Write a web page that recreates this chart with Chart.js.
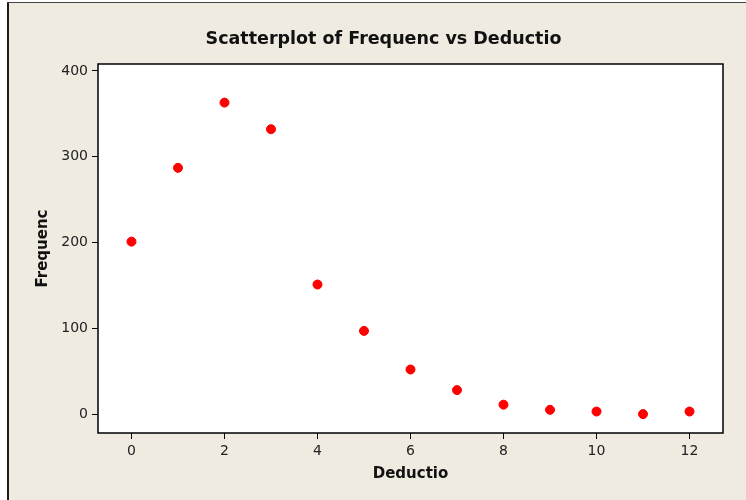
<!DOCTYPE html>
<html>
<head>
<meta charset="utf-8">
<script src="https://cdn.jsdelivr.net/npm/chart.js@4.4.1/dist/chart.umd.min.js"></script>
<style>
html,body{margin:0;padding:0;background:#EFEBE1;}
#wrap{width:746px;height:500px;position:relative;}
</style>
</head>
<body>
<div id="wrap"><canvas id="c" width="746" height="500"></canvas></div>
<script>
const deductio = [0,1,2,3,4,5,6,7,8,9,10,11,12];
const frequenc = [201,287,363,332,151,97,52,28,11,5,3,0,3];
const xTicks = [0,2,4,6,8,10,12];
const yTicks = [0,100,200,300,400];
const titleText = 'Scatterplot of Frequenc vs Deductio';
const xLabel = 'Deductio';
const yLabel = 'Frequenc';

const points = deductio.map((x,i)=>({x:x,y:frequenc[i]}));
const FONT = "'DejaVu Sans', Verdana, sans-serif";

const frame = {
  id:'frame',
  beforeDraw(chart){
    const c = chart.ctx;
    c.save();
    c.fillStyle = '#FFFFFF';
    c.fillRect(0,0,chart.width,chart.height);
    c.fillStyle = '#EFEBE1';
    c.fillRect(7,2,chart.width-7,chart.height-2);
    const a = chart.chartArea;
    c.fillStyle = '#FFFFFF';
    c.fillRect(a.left,a.top,a.right-a.left,a.bottom-a.top);
    c.fillStyle = '#1a1a1a';
    c.fillRect(7,2,2,chart.height-2);
    c.fillStyle = '#444';
    c.fillRect(7,2,chart.width-7,1);
    c.restore();
  },
  afterDraw(chart){
    const c = chart.ctx, a = chart.chartArea;
    c.save();
    c.strokeStyle = '#000';
    c.lineWidth = 1.5;
    c.strokeRect(a.left,a.top,a.right-a.left,a.bottom-a.top);
    c.restore();
  }
};

new Chart(document.getElementById('c'),{
  type:'scatter',
  data:{datasets:[{data:points,backgroundColor:'#FF0000',borderColor:'#FF0000',pointRadius:4.5,pointHoverRadius:4.5}]},
  options:{
    responsive:false,animation:false,
    layout:{padding:{left:21,right:0,top:0,bottom:0}},
    plugins:{
      legend:{display:false},tooltip:{enabled:false},
      title:{display:true,text:titleText,color:'#111',font:{family:FONT,size:17.5,weight:'bold'},padding:{top:29,bottom:14}}
    },
    scales:{
      x:{type:'linear',min:-0.72,max:12.72,
        afterBuildTicks(s){s.ticks = xTicks.map(v=>({value:v}));},
        afterFit(s){s.height = 67;},
        grid:{display:true,drawOnChartArea:false,drawTicks:true,tickLength:6,color:'#000',lineWidth:1},
        border:{display:false},
        ticks:{color:'#222',font:{family:FONT,size:14},padding:4,maxRotation:0},
        title:{display:true,text:xLabel,color:'#111',font:{family:FONT,size:15,weight:'bold'},padding:{top:2,bottom:17}}
      },
      y:{type:'linear',min:-22,max:408,
        afterBuildTicks(s){s.ticks = yTicks.map(v=>({value:v}));},
        afterFit(s){s.width = 77;},
        grid:{display:true,drawOnChartArea:false,drawTicks:true,tickLength:6,color:'#000',lineWidth:1},
        border:{display:false},
        ticks:{color:'#222',font:{family:FONT,size:14},padding:4},
        title:{display:true,text:yLabel,color:'#111',font:{family:FONT,size:15,weight:'bold'},padding:{top:13,bottom:0}}
      },
      yRight:{type:'linear',position:'right',min:-22,max:408,display:true,
        afterFit(s){s.width = 23;},
        grid:{display:false},border:{display:false},
        ticks:{display:false},title:{display:false}
      }
    }
  },
  plugins:[frame]
});
</script>
</body>
</html>
